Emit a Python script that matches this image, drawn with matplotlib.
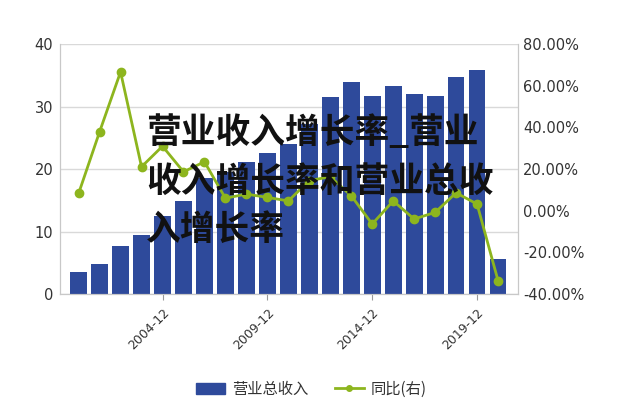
import matplotlib
matplotlib.use("Agg")
import matplotlib.pyplot as plt
from matplotlib.patches import Patch
from matplotlib.lines import Line2D
from matplotlib.ticker import FuncFormatter

categories = ["2000-12", "2001-12", "2002-12", "2003-12", "2004-12", "2005-12", "2006-12",
              "2007-12", "2008-12", "2009-12", "2010-12", "2011-12", "2012-12", "2013-12",
              "2014-12", "2015-12", "2016-12", "2017-12", "2018-12", "2019-12", "2020-12"]
revenue = [3.5, 4.75, 7.7, 9.4, 12.5, 14.9, 18.5, 19.6, 21.2, 22.6, 23.95, 27.2,
           31.6, 33.9, 31.7, 33.3, 32.0, 31.7, 34.8, 35.8, 5.6]
growth = [8.3, 37.9, 66.7, 21.1, 31.0, 18.7, 23.5, 6.0, 8.0, 6.4, 4.7, 14.5,
          16.3, 7.2, -6.4, 4.7, -4.0, -0.8, 8.6, 3.2, -33.6]
shown_ticks = ["2004-12", "2009-12", "2014-12", "2019-12"]
title_lines = ["营业收入增长率_营业", "收入增长率和营业总收", "入增长率"]
legend_labels = ["营业总收入", "同比(右)"]

bar_color = "#2e4a9b"
line_color = "#8db51e"
spine_color = "#c8c8c8"
text_color = "#333333"

fig = plt.figure(figsize=(6.4, 4.17), dpi=100)
ax = fig.add_axes([0.094, 0.295, 0.715, 0.599])
x = list(range(len(categories)))
ax.bar(x, revenue, width=0.8, color=bar_color, zorder=2)
ax.set_ylim(0, 40)
ax.set_yticks([0, 10, 20, 30, 40])
ax.set_xlim(-0.88, 20.94)
ax.grid(axis="y", color="#d9d9d9", linewidth=1, zorder=0)
ax.set_axisbelow(True)
tick_pos = [categories.index(t) for t in shown_ticks]
ax.set_xticks(tick_pos)
ax.set_xticklabels(shown_ticks, rotation=45, ha="right", rotation_mode="anchor",
                   fontsize=9, color=text_color)
ax.tick_params(axis="x", length=4, color="#999999", pad=5)
ax.tick_params(axis="y", length=0, labelsize=10.5, labelcolor=text_color, pad=5)
for s in ["left", "bottom", "right", "top"]:
    ax.spines[s].set_color(spine_color)
ax.spines["top"].set_visible(False)

ax2 = ax.twinx()
ax2.plot(x, growth, color=line_color, linewidth=2, marker="o", markersize=6, zorder=3)
ax2.set_ylim(-40, 80)
ax2.set_yticks([-40, -20, 0, 20, 40, 60, 80])
ax2.yaxis.set_major_formatter(FuncFormatter(lambda v, p: f"{v:.2f}%"))
ax2.tick_params(axis="y", length=0, labelsize=10.5, labelcolor=text_color, pad=4)
for s in ["left", "bottom", "right", "top"]:
    ax2.spines[s].set_color(spine_color)
ax2.spines["top"].set_visible(False)

cjk = ["Noto Sans CJK SC", "DejaVu Sans"]
handles = [Patch(facecolor=bar_color, edgecolor=bar_color),
           Line2D([0], [0], color=line_color, linewidth=2, marker="o", markersize=4)]
leg = fig.legend(handles, legend_labels, loc="center", bbox_to_anchor=(0.486, 0.067),
                 ncol=2, frameon=False, columnspacing=1.75, handlelength=1.9,
                 handletextpad=0.45, prop={"family": cjk, "size": 11})
for t in leg.get_texts():
    t.set_color(text_color)

ys = [0.682, 0.565, 0.450]
for line, y in zip(title_lines, ys):
    fig.text(0.228, y, line, fontsize=25, fontweight="heavy", family=cjk,
             color="#111111", va="center", ha="left", zorder=10)

fig.savefig("out.png", dpi=100)
